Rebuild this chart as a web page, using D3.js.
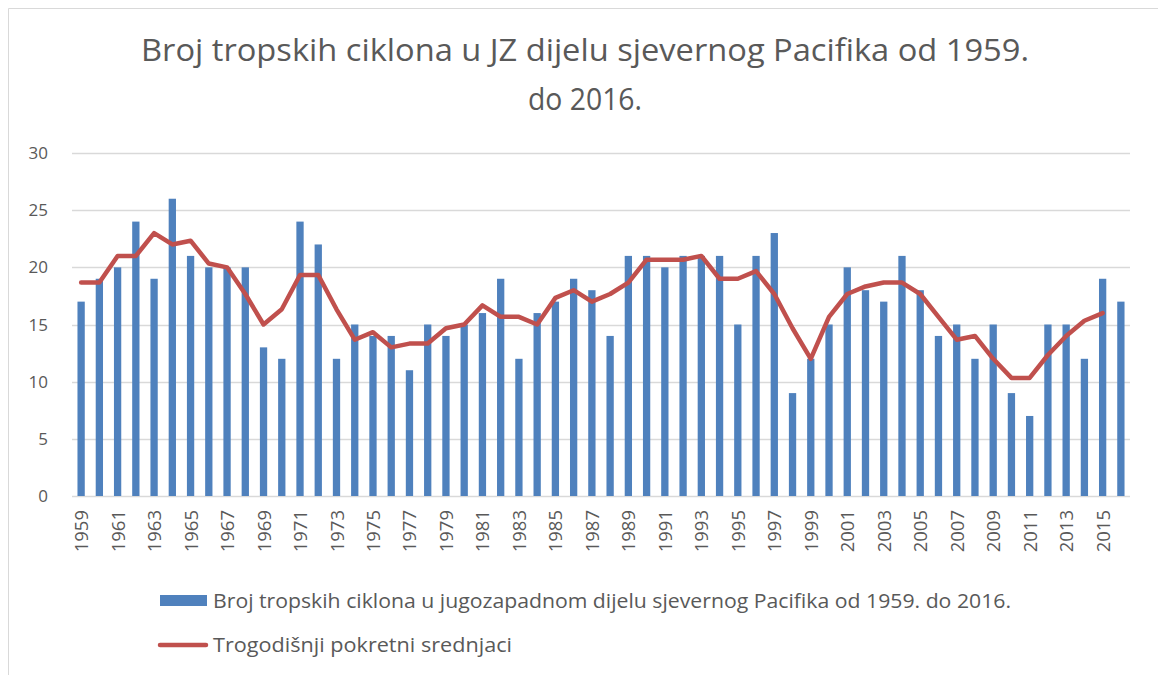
<!DOCTYPE html>
<html><head><meta charset="utf-8">
<script src="https://cdn.jsdelivr.net/npm/d3@7"></script>
<style>body{margin:0;background:#fff}svg{display:block}</style>
</head><body>
<svg id="c" width="1158" height="675"></svg>
<script>
const years = d3.range(1959, 2017).map(String);
const cyclones = [17,19,20,24,19,26,21,20,20,20,13,12,24,22,12,15,14,14,11,15,
  14,15,16,19,12,16,17,19,18,14,21,21,20,21,21,21,15,21,23,9,
  12,15,20,18,17,21,18,14,15,12,15,9,7,15,15,12,19,17];
const movingAvg = [18.67,18.67,21,21,23,22,22.33,20.33,20,17.67,15,16.33,19.33,19.33,16.33,13.67,14.33,13,13.33,13.33,
  14.67,15,16.67,15.67,15.67,15,17.33,18,17,17.67,18.67,20.67,20.67,20.67,21,19,19,19.67,17.67,14.67,
  12,15.67,17.67,18.33,18.67,18.67,17.67,15.67,13.67,14,12,10.33,10.33,12.33,14,15.33,16,null];
const yTicks = [0,5,10,15,20,25,30];
const titleLines = ["Broj tropskih ciklona u JZ dijelu sjevernog Pacifika od 1959.", "do 2016."];
const legendBar = "Broj tropskih ciklona u jugozapadnom dijelu sjevernog Pacifika od 1959. do 2016.";
const legendLine = "Trogodišnji pokretni srednjaci";

const svg = d3.select("#c");
const font = "'Open Sans', sans-serif";
const grey = "#595959";

svg.append("path").attr("d","M8.5,675 V8.5 H1158").attr("fill","none").attr("stroke","#d9d9d9").attr("stroke-width",1);

svg.append("text").attr("x",585).attr("y",61).attr("text-anchor","middle")
  .attr("font-family",font).attr("font-size",31).attr("fill",grey)
  .attr("textLength",888).attr("lengthAdjust","spacingAndGlyphs").text(titleLines[0]);
svg.append("text").attr("x",585).attr("y",110).attr("text-anchor","middle")
  .attr("font-family",font).attr("font-size",31).attr("fill",grey)
  .attr("textLength",114).attr("lengthAdjust","spacingAndGlyphs").text(titleLines[1]);

const x = d3.scaleBand().domain(years).range([72,1130]).paddingInner(0.6).paddingOuter(0.3);
const y = d3.scaleLinear().domain([0,30]).range([496,153]);

svg.append("g").selectAll("line").data(yTicks).enter().append("line")
  .attr("x1",72).attr("x2",1130).attr("y1",d=>Math.round(y(d))+0.5).attr("y2",d=>Math.round(y(d))+0.5)
  .attr("stroke","#d9d9d9").attr("stroke-width",1.3);

svg.append("g").selectAll("text").data(yTicks).enter().append("text")
  .attr("x",48).attr("y",d=>y(d)+6).attr("text-anchor","end")
  .attr("font-family",font).attr("font-size",17).attr("fill",grey).text(d=>d);

svg.append("g").selectAll("rect").data(cyclones).enter().append("rect")
  .attr("x",(d,i)=>x(years[i])).attr("width",x.bandwidth())
  .attr("y",d=>y(d)).attr("height",d=>y(0)-y(d)).attr("fill","#4F81BD");

const line = d3.line().defined(d=>d!=null).x((d,i)=>x(years[i])+x.bandwidth()/2).y(d=>y(d));
svg.append("path").datum(movingAvg).attr("d",line).attr("fill","none")
  .attr("stroke","#C0504D").attr("stroke-width",4.5).attr("stroke-linejoin","round").attr("stroke-linecap","round");

svg.append("g").selectAll("text").data(years.filter((d,i)=>i%2===0)).enter().append("text")
  .attr("transform",d=>`translate(${x(d)+x.bandwidth()/2+7},510) rotate(-90)`)
  .attr("text-anchor","end").attr("font-family",font).attr("font-size",18.5).attr("fill",grey).text(d=>d);

svg.append("rect").attr("x",160).attr("y",595).attr("width",47).attr("height",11).attr("fill","#4F81BD");
svg.append("text").attr("x",213).attr("y",608).attr("font-family",font).attr("font-size",20).attr("fill",grey)
  .attr("textLength",798).attr("lengthAdjust","spacingAndGlyphs").text(legendBar);
svg.append("line").attr("x1",160).attr("x2",206).attr("y1",645).attr("y2",645).attr("stroke","#C0504D").attr("stroke-width",4.5).attr("stroke-linecap","round");
svg.append("text").attr("x",213).attr("y",652).attr("font-family",font).attr("font-size",20).attr("fill",grey)
  .attr("textLength",299).attr("lengthAdjust","spacingAndGlyphs").text(legendLine);
</script>
</body></html>
